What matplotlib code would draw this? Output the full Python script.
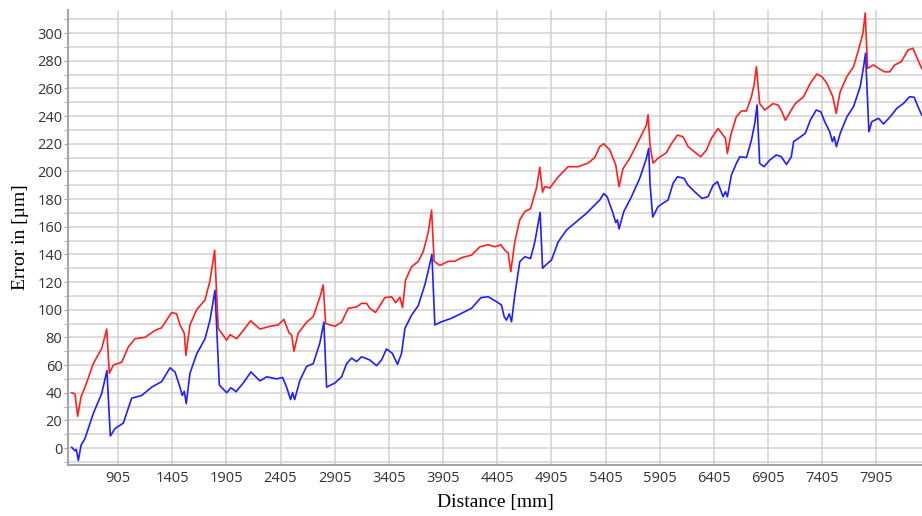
import matplotlib.pyplot as plt
from matplotlib.ticker import MultipleLocator

# courbe rouge
x_rouge = [478, 508, 533, 564, 601, 677, 755, 801, 825, 862, 939, 1000, 1062, 1154, 1246, 1308,
           1354, 1400, 1446, 1477, 1517, 1532, 1569, 1631, 1708, 1754, 1797, 1830, 1908, 1939,
           2000, 2061, 2129, 2215, 2307, 2384, 2436, 2485, 2507, 2529, 2568, 2646, 2707, 2768,
           2799, 2821, 2907, 2969, 3030, 3107, 3153, 3199, 3230, 3282, 3368, 3430, 3467, 3507,
           3531, 3559, 3614, 3676, 3722, 3768, 3799, 3823, 3875, 3952, 4014, 4075, 4168, 4245,
           4321, 4383, 4438, 4475, 4506, 4530, 4567, 4613, 4660, 4712, 4767, 4798, 4823, 4844,
           4890, 4967, 5059, 5151, 5243, 5305, 5351, 5388, 5444, 5499, 5529, 5566, 5628, 5690,
           5782, 5797, 5815, 5843, 5889, 5966, 6012, 6068, 6120, 6166, 6227, 6283, 6336, 6382,
           6443, 6489, 6511, 6529, 6560, 6612, 6658, 6705, 6751, 6775, 6797, 6827, 6874, 6950,
           6997, 7033, 7064, 7119, 7155, 7232, 7294, 7355, 7401, 7447, 7502, 7533, 7570, 7631,
           7693, 7739, 7780, 7801, 7823, 7878, 7924, 7981, 8027, 8073, 8134, 8196, 8242, 8288, 8322]
y_rouge = [40, 39, 23, 37, 44, 61, 72, 86, 54, 60, 62, 73, 79, 80, 85, 87,
           92.5, 98, 97, 89, 83, 67, 89, 100, 107, 121, 143, 86.5, 78, 82,
           79, 85, 92, 86, 88, 89, 93, 83, 82, 70, 83, 91, 95, 109,
           118, 90, 88, 91, 101, 102, 104.6, 104.6, 101, 98, 108.7, 109.4, 105, 109,
           101.5, 121.5, 131, 135, 142, 156, 172, 135, 132, 135, 135, 137.6, 139.5, 145.5,
           147, 145.5, 147, 143, 141, 127.5, 149, 165, 171, 173, 188, 203, 185, 189,
           188, 196, 203.4, 203.4, 206, 210, 218, 220, 215.5, 204.6, 189, 202, 209.5, 219,
           233.5, 241, 219, 206, 209.5, 213.5, 220, 226.3, 225, 218, 214, 210.6, 215.5, 224,
           231, 226.3, 224, 213, 226.3, 239.6, 243.7, 243.7, 254, 262.5, 275.7, 249, 244.4, 249,
           248, 243, 237, 244.4, 249, 254, 263.7, 270.4, 268.5, 263.7, 254, 242, 257.6, 268.5,
           275.7, 287.8, 299.8, 314.6, 274.5, 277, 274.5, 272, 272, 277, 279.3, 287.8, 289, 280.5, 274.5]

# courbe bleue
x_bleu = [478, 508, 520, 539, 564, 601, 677, 755, 803, 834, 877, 954, 1031, 1124, 1216, 1308,
          1385, 1431, 1477, 1498, 1517, 1535, 1569, 1631, 1708, 1754, 1800, 1840, 1908, 1948,
          1994, 2061, 2132, 2215, 2277, 2369, 2424, 2461, 2498, 2516, 2535, 2584, 2646, 2707,
          2768, 2805, 2830, 2907, 2969, 3015, 3061, 3107, 3153, 3230, 3291, 3337, 3383, 3436,
          3485, 3522, 3553, 3614, 3676, 3737, 3774, 3802, 3829, 3891, 3983, 4075, 4168, 4254,
          4321, 4398, 4444, 4469, 4490, 4516, 4537, 4567, 4613, 4660, 4712, 4752, 4801, 4823,
          4860, 4906, 4967, 5044, 5136, 5228, 5290, 5351, 5388, 5419, 5468, 5499, 5514, 5529,
          5573, 5644, 5720, 5782, 5803, 5815, 5840, 5889, 5935, 5981, 6028, 6068, 6129, 6166,
          6227, 6295, 6350, 6397, 6437, 6489, 6511, 6529, 6566, 6612, 6643, 6705, 6751, 6782,
          6803, 6827, 6867, 6920, 6981, 7027, 7074, 7119, 7140, 7186, 7248, 7294, 7349, 7392,
          7427, 7473, 7498, 7515, 7535, 7570, 7633, 7693, 7755, 7786, 7804, 7835, 7862, 7924,
          7970, 8032, 8093, 8155, 8210, 8253, 8288, 8322]
y_bleu = [0.5, -2, -1, -9, 2, 7, 25, 39.5, 56, 8.7, 14, 18, 36, 38, 44, 48,
          58, 55, 44, 38, 41, 32, 54, 68, 79, 92.5, 114, 45.5, 40, 43.6,
          40.7, 47, 55, 48.5, 51.5, 50, 51, 44, 35, 40, 35, 49, 59, 61,
          76, 91, 44, 47, 51.5, 61, 65, 62.5, 66, 63.6, 59.5, 63.6, 71.6, 68.5,
          60.5, 68.5, 86.5, 96, 103, 118, 130, 140, 89, 91.3, 93.8, 97.4, 101, 108.7,
          109.4, 105.8, 103.4, 95, 92.5, 97, 91.3, 110.6, 134.7, 138.3, 137, 149, 170.4, 130,
          132.8, 136, 149, 157.6, 163.6, 169.7, 174.5, 179.3, 184, 181.7, 171, 163, 165, 158.4,
          171, 181.7, 195, 209.5, 216.7, 191, 167, 174.5, 177, 179.3, 191.4, 196.2, 195, 190,
          185.3, 180.5, 181.7, 190, 192.6, 181.7, 185.3, 181.7, 197.4, 205.8, 210.6, 210, 222.7, 234.8,
          248, 205.8, 203.4, 208.2, 211.9, 210.6, 205, 210.6, 221.5, 224, 227.5, 237, 244.4, 243,
          236, 228.7, 221.5, 225, 217.9, 227.5, 239.6, 246.8, 261.3, 275.7, 285.4, 228.7, 236, 238.4,
          234.3, 239.6, 245.6, 249.2, 254, 253.6, 246.8, 240.8]

plt.rcParams['font.family'] = ['Open Sans', 'DejaVu Sans']

fig = plt.figure(figsize=(9.22, 5.16), dpi=100)
ax = fig.add_axes([0.0738, 0.0988, 0.9262, 0.8818])

ax.plot(x_rouge, y_rouge, color='#ff2020', lw=1.2)
ax.plot(x_bleu, y_bleu, color='#2020ff', lw=1.2)

ax.set_xlim(444, 8325)
ax.set_ylim(-12.3, 316.7)
ax.set_xticks(range(905, 8000, 500))
ax.yaxis.set_major_locator(MultipleLocator(20))
ax.yaxis.set_minor_locator(MultipleLocator(10))
ax.grid(True, which='major', color='#d2d2d2', lw=1.1)
ax.grid(True, which='minor', axis='y', color='#d2d2d2', lw=1.1)
ax.set_axisbelow(True)

for s in ['top', 'right']:
    ax.spines[s].set_visible(False)
ax.spines['left'].set_color('#a6a6a6')
ax.spines['bottom'].set_color('#a6a6a6')
ax.spines['left'].set_linewidth(1.5)
ax.spines['bottom'].set_linewidth(1.5)
ax.tick_params(axis='y', which='both', length=3, color='#a6a6a6', labelsize=10.5, labelcolor='#333333', pad=1)
ax.tick_params(axis='x', length=0, pad=4, labelsize=10.5, labelcolor='#333333')

ax.set_ylabel("Error in [µm]", family=['Liberation Serif', 'DejaVu Serif'], fontsize=14, labelpad=6)
ax.set_xlabel("Distance [mm]", family=['Liberation Serif', 'DejaVu Serif'], fontsize=14, labelpad=6)

plt.savefig("out.png", dpi=100)
